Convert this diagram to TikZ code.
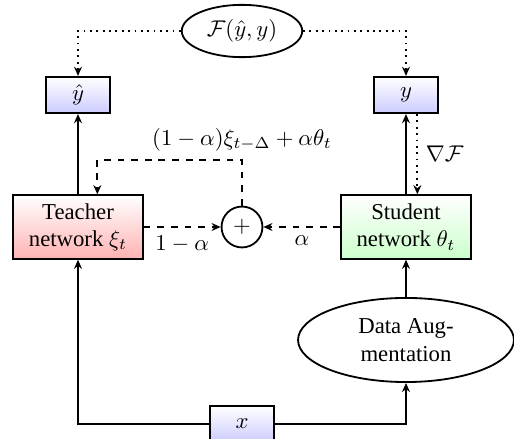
\documentclass[tikz,border=0pt]{standalone}
\usepackage{fontspec}
\setmainfont{Liberation Serif}
\usepackage{amsmath,amssymb}
\usetikzlibrary{arrows.meta,shapes.geometric,positioning}

\tikzset{
  outbox/.style={draw, rectangle, top color=white, bottom color=blue!20,
    minimum width=28pt, minimum height=16pt},
  netbox/.style={draw, rectangle, align=center, minimum width=57pt,
    minimum height=28pt, inner sep=2pt},
  lossnode/.style={draw, ellipse, minimum width=53pt, minimum height=23pt, inner sep=1pt},
  augnode/.style={draw, ellipse, align=center, minimum width=95pt, minimum height=37pt},
  sumnode/.style={draw, circle, minimum size=18pt, inner sep=0pt}
}

\begin{document}
\begin{tikzpicture}[x=0.44pt,y=0.44pt,>={Stealth[length=4pt,width=3.5pt]},thick]
      \useasboundingbox (0,0) rectangle (514,439);
      \node[lossnode] (loss) at (242,408) {$\mathcal{F}(\hat{y},y)$};
      \node[outbox] (yhat) at (78,344) {$\hat{y}$};
      \node[outbox] (ytrue) at (406,344) {$y$};
      \node[netbox, top color=white, bottom color=red!30] (teacher) at (78,212) {Teacher\\network $\xi_t$};
      \node[netbox, top color=white, bottom color=green!20] (student) at (406,212) {Student\\network $\theta_t$};
      \node[sumnode] (plus) at (242,212) {$+$};
      \node[augnode] (aug) at (406,99) {Data Aug-\\mentation};
      \node[outbox] (x) at (242,15) {$x$};

      % loss
      \draw[->,dotted] (loss.west) -| (yhat.north);
      \draw[->,dotted] (loss.east) -| (ytrue.north);
      \draw[->,dotted] ([xshift=5pt]ytrue.south) -- node[right]{$\nabla\mathcal{F}$} ([xshift=5pt]ytrue.south |- student.north);

      % forward
      \draw[->] (teacher) -- (yhat);
      \draw[->] (student) -- (ytrue);
      \draw[->] (x.west) -| (teacher.south);
      \draw[->] (x.east) -| (aug.south);
      \draw[->] (aug) -- (student);

      % EMA update
      \draw[->,dashed] (teacher) -- node[below]{$1-\alpha$} (plus);
      \draw[->,dashed] (student) -- node[below]{$\alpha$} (plus);
      \draw[->,dashed] (plus.north) -- ++(0,46) node[above]{$(1-\alpha)\xi_{t-\Delta}+\alpha\theta_t$} -| ([xshift=8.5pt]teacher.north);
    \end{tikzpicture}
\end{document}
